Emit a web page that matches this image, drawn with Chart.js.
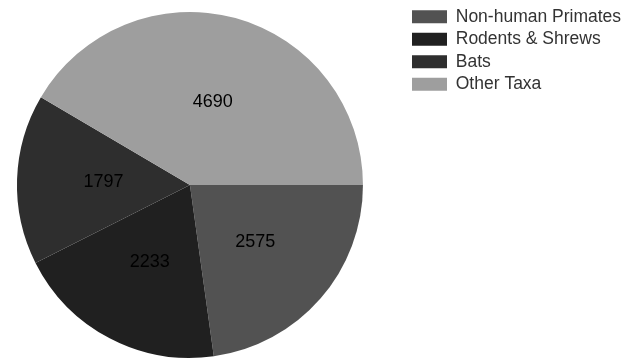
<!DOCTYPE html>
<html>
<head>
<meta charset="UTF-8">
<title>Taxa</title>
<script src="https://cdn.jsdelivr.net/npm/chart.js"></script>
<style>
  html, body { margin: 0; padding: 0; background: #fff; }
  #wrap { width: 630px; height: 359px; }
</style>
</head>
<body>
<div id="wrap"><canvas id="pie"></canvas></div>
<script>
  const taxa = ['Non-human Primates', 'Rodents & Shrews', 'Bats', 'Other Taxa'];
  const counts = [2575, 2233, 1797, 4690];
  const greys = ['#525252', '#202020', '#2e2e2e', '#9e9e9e'];

  // writes the count in the middle of each slice
  const sliceLabels = {
    id: 'sliceLabels',
    afterDatasetsDraw(chart) {
      const ctx = chart.ctx;
      const meta = chart.getDatasetMeta(0);
      ctx.save();
      ctx.font = '18px "Liberation Sans", Arial, sans-serif';
      ctx.fillStyle = '#000';
      ctx.textAlign = 'center';
      ctx.textBaseline = 'middle';
      meta.data.forEach((arc, i) => {
        const p = arc.getProps(['x', 'y', 'startAngle', 'endAngle', 'outerRadius'], true);
        const mid = (p.startAngle + p.endAngle) / 2;
        const r = p.outerRadius * 0.5;
        ctx.fillText(counts[i], p.x + Math.cos(mid) * r, p.y + Math.sin(mid) * r);
      });
      ctx.restore();
    }
  };

  // legend sits higher and further right than the layout would put it
  const legendNudge = {
    id: 'legendNudge',
    afterLayout(chart) {
      const lg = chart.legend;
      const w = lg.width, h = lg.height;
      lg.left = 407;
      lg.top = 3;
      lg.right = lg.left + w;
      lg.bottom = lg.top + h;
    }
  };

  new Chart(document.getElementById('pie'), {
    type: 'pie',
    data: {
      labels: taxa,
      datasets: [{
        data: counts,
        backgroundColor: greys,
        borderWidth: 0,
        radius: 173
      }]
    },
    options: {
      responsive: true,
      maintainAspectRatio: false,
      animation: false,
      rotation: 90,
      layout: {
        padding: { left: 0, right: 26, top: 11, bottom: 0 }
      },
      plugins: {
        tooltip: { enabled: false },
        legend: {
          position: 'right',
          align: 'start',
          labels: {
            boxWidth: 35,
            boxHeight: 13,
            padding: 5,
            color: '#333',
            font: { family: '"Liberation Sans", Arial, sans-serif', size: 17.5 }
          }
        }
      }
    },
    plugins: [sliceLabels, legendNudge]
  });
</script>
</body>
</html>
